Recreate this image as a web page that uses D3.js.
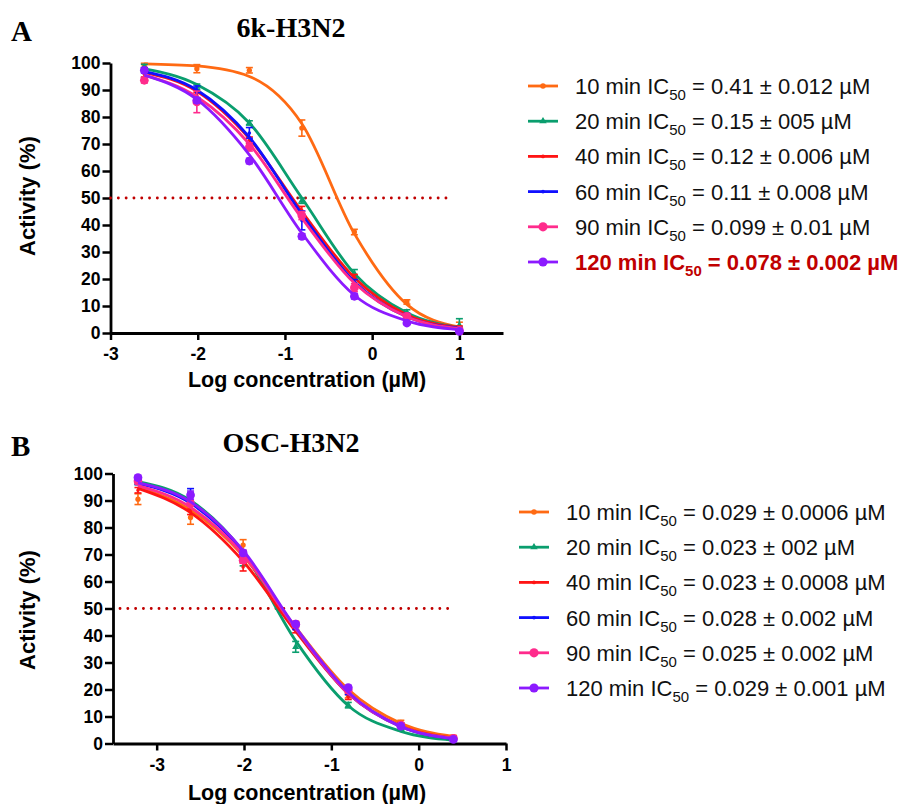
<!DOCTYPE html>
<html>
<head>
<meta charset="utf-8">
<script src="https://cdn.jsdelivr.net/npm/d3@7"></script>
<style>
  body { margin: 0; background: #fff; }
  text { font-family: Arial, "Liberation Sans", sans-serif; }
</style>
</head>
<body>
<div id="container"></div>
<script>
// ---- data ----
let timeLabels = ["10 min", "20 min", "40 min", "60 min", "90 min", "120 min"];

// log10 of concentration (µM), 4-fold dilutions
let logConcA = [-2.612, -2.010, -1.408, -0.806, -0.204, 0.398, 1.0];
let logConcB = [-3.214, -2.612, -2.010, -1.408, -0.806, -0.204, 0.398];

// measured activity (%) per time point
let activityA = [
  [99.1, 97.9, 97.3, 75.9, 37.4, 11.5, 1.8],
  [98.5, 91.2, 77.8, 49.0, 22.0, 7.6, 2.8],
  [95.8, 88.0, 71.4, 45.4, 20.7, 5.9, 1.6],
  [97.3, 89.0, 74.1, 41.7, 18.3, 6.5, 1.2],
  [93.6, 85.6, 68.9, 43.5, 16.8, 6.2, 1.0],
  [97.3, 86.2, 63.7, 35.8, 13.6, 3.7, 0.6]
];
let errorA = [
  [0.8, 1.5, 1.0, 3.0, 1.0, 0.8, 2.2],
  [1.0, 1.0, 0.8, 1.0, 1.5, 1.0, 2.5],
  [1.0, 1.0, 1.2, 1.5, 1.0, 0.8, 1.0],
  [1.0, 2.5, 2.0, 3.5, 1.5, 0.8, 0.8],
  [1.0, 4.0, 1.5, 1.5, 1.5, 1.0, 0.8],
  [0.5, 1.0, 1.0, 1.0, 1.0, 0.5, 0.5]
];
// fitted curve values read at the same concentrations
let fitA = [
  [99.7, 98.9, 95.0, 77.5, 36.8, 10.6, 2.2],
  [97.8, 92.0, 77.8, 50.0, 22.0, 7.5, 2.0],
  [96.5, 89.5, 72.0, 45.0, 20.5, 6.8, 2.0],
  [96.8, 90.0, 72.5, 44.0, 19.0, 6.0, 1.8],
  [95.5, 87.5, 70.0, 42.5, 18.5, 6.0, 1.6],
  [95.5, 86.5, 66.0, 37.0, 14.0, 4.5, 1.2]
];
let ic50A = ["0.41 ± 0.012", "0.15 ± 005", "0.12 ± 0.006", "0.11 ± 0.008", "0.099 ± 0.01", "0.078 ± 0.002"];

let activityB = [
  [90.5, 83.7, 73.5, 44.2, 17.9, 7.8, 2.5],
  [96.9, 90.4, 67.3, 35.8, 14.2, 5.6, 1.2],
  [93.8, 85.8, 65.4, 42.0, 17.3, 6.8, 2.1],
  [96.9, 91.4, 69.1, 43.2, 19.1, 7.2, 1.9],
  [97.2, 88.9, 67.9, 44.2, 19.8, 6.8, 1.9],
  [98.5, 92.0, 70.6, 44.2, 20.7, 6.4, 1.5]
];
let errorB = [
  [2.0, 2.5, 2.0, 1.0, 1.0, 0.8, 0.5],
  [1.0, 2.5, 1.5, 2.0, 1.0, 0.8, 0.5],
  [1.0, 1.0, 1.5, 1.0, 1.0, 0.8, 0.5],
  [1.0, 3.0, 1.0, 1.0, 1.0, 0.5, 0.5],
  [1.0, 1.0, 1.0, 1.0, 1.0, 0.5, 0.5],
  [0.8, 1.5, 1.0, 0.8, 0.8, 0.5, 0.5]
];
let fitB = [
  [94.8, 86.5, 69.5, 43.0, 20.0, 7.5, 2.6],
  [97.0, 90.0, 71.0, 38.0, 14.0, 4.5, 1.2],
  [94.5, 85.5, 67.5, 41.5, 18.5, 6.5, 2.0],
  [96.3, 89.0, 71.0, 42.5, 18.5, 6.2, 1.8],
  [95.5, 87.5, 70.0, 42.5, 18.5, 6.3, 2.0],
  [96.5, 89.5, 71.5, 43.0, 19.0, 6.3, 1.8]
];
let ic50B = ["0.029 ± 0.0006", "0.023 ± 002", "0.023 ± 0.0008", "0.028 ± 0.002", "0.025 ± 0.002", "0.029 ± 0.001"];

let xTicks = [-3, -2, -1, 0, 1];
let yTicks = [0, 10, 20, 30, 40, 50, 60, 70, 80, 90, 100];
let halfLineA = [-3, 0.9];
let halfLineB = [-3.42, 0.4];

// ---- styles ----
let colors = ["#ff6a13", "#0a9e6e", "#ff1414", "#1010ff", "#ff2b8c", "#8c1aff"];
let symbols = [d3.symbolCircle, d3.symbolTriangle, d3.symbolCircle, d3.symbolCircle, d3.symbolCircle, d3.symbolCircle];
let symbolSizes = [22, 22, 10, 10, 60, 60];

let w = 901;
let h = 804;
let viz = d3.select("#container")
  .append("svg")
    .attr("width", w)
    .attr("height", h)
    .style("display", "block")
;
viz.append("rect").attr("width", w).attr("height", h).attr("fill", "#fff");

let serif = "'Times New Roman', 'Liberation Serif', serif";

function drawPanel(p){
  let xScale = d3.scaleLinear().domain(p.xDomain).range([p.left, p.right]);
  let yScale = d3.scaleLinear().domain([0, 100]).range([p.bottom, p.top]);

  let g = viz.append("g").attr("class", "panel");

  // panel letter and title
  g.append("text")
    .text(p.letter)
    .attr("x", 11).attr("y", p.letterY)
    .style("font-family", serif)
    .style("font-weight", "bold")
    .style("font-size", "29px");
  g.append("text")
    .text(p.title)
    .attr("x", 291).attr("y", p.titleY)
    .attr("text-anchor", "middle")
    .style("font-family", serif)
    .style("font-weight", "bold")
    .style("font-size", "28px");

  // axes
  let xAxis = d3.axisBottom(xScale)
    .tickValues(xTicks)
    .tickSize(7)
    .tickSizeOuter(0)
    .tickPadding(8)
    .tickFormat(function(d){ return String(d); });
  let xAxisGroup = g.append("g")
    .attr("transform", "translate(0," + p.bottom + ")")
    .call(xAxis);

  let yAxis = d3.axisLeft(yScale)
    .tickValues(yTicks)
    .tickSize(8)
    .tickSizeOuter(0)
    .tickPadding(2);
  let yAxisGroup = g.append("g")
    .attr("transform", "translate(" + p.left + ",0)")
    .call(yAxis);

  [xAxisGroup, yAxisGroup].forEach(function(ax){
    ax.select(".domain").attr("stroke", "#000").attr("stroke-width", 2.8);
    ax.selectAll(".tick line").attr("stroke", "#000").attr("stroke-width", 2.5);
    ax.selectAll(".tick text")
      .attr("fill", "#000")
      .style("font-family", "Arial, 'Liberation Sans', sans-serif")
      .style("font-weight", "bold")
      .style("font-size", "17.5px");
  });

  // axis titles
  g.append("text")
    .text("Log concentration (µM)")
    .attr("x", 307).attr("y", p.xLabelY)
    .attr("text-anchor", "middle")
    .style("font-weight", "bold")
    .style("font-size", "21.5px");
  g.append("text")
    .text("Activity (%)")
    .attr("transform", "translate(35," + p.yLabelY + ") rotate(-90)")
    .attr("text-anchor", "middle")
    .style("font-weight", "bold")
    .style("font-size", "22px");

  // 50% reference line
  g.append("line")
    .attr("x1", xScale(p.halfLine[0])).attr("x2", xScale(p.halfLine[1]))
    .attr("y1", yScale(50)).attr("y2", yScale(50))
    .attr("stroke", "#c00000")
    .attr("stroke-width", 2.8)
    .attr("stroke-linecap", "round")
    .attr("stroke-dasharray", "0.1,7.7");

  let line = d3.line()
    .x(function(d){ return xScale(d.x); })
    .y(function(d){ return yScale(d.y); })
    .curve(d3.curveMonotoneX);

  timeLabels.forEach(function(lbl, i){
    let pts = p.xs.map(function(x, j){
      return { x: x, y: p.activity[i][j], e: p.error[i][j], f: p.fit[i][j] };
    });
    let sg = g.append("g").attr("class", "series");

    sg.append("path")
      .datum(pts.map(function(d){ return { x: d.x, y: d.f }; }))
      .attr("d", line)
      .attr("fill", "none")
      .attr("stroke", colors[i])
      .attr("stroke-width", 2.8);

    // error bars
    let eb = sg.selectAll(".eb").data(pts).enter().append("g").attr("class", "eb");
    eb.append("line")
      .attr("x1", function(d){ return xScale(d.x); })
      .attr("x2", function(d){ return xScale(d.x); })
      .attr("y1", function(d){ return yScale(d.y - d.e); })
      .attr("y2", function(d){ return yScale(d.y + d.e); })
      .attr("stroke", colors[i]).attr("stroke-width", 1.6);
    [-1, 1].forEach(function(s){
      eb.append("line")
        .attr("x1", function(d){ return xScale(d.x) - 3.5; })
        .attr("x2", function(d){ return xScale(d.x) + 3.5; })
        .attr("y1", function(d){ return yScale(d.y + s * d.e); })
        .attr("y2", function(d){ return yScale(d.y + s * d.e); })
        .attr("stroke", colors[i]).attr("stroke-width", 1.6);
    });

    sg.selectAll(".pt").data(pts).enter().append("path")
      .attr("class", "pt")
      .attr("d", d3.symbol().type(symbols[i]).size(symbolSizes[i]))
      .attr("transform", function(d){ return "translate(" + xScale(d.x) + "," + yScale(d.y) + ")"; })
      .attr("fill", colors[i]);

    // legend row
    let ry = p.legendY + i * 35.2;
    let lg = g.append("g").attr("class", "legend");
    lg.append("line")
      .attr("x1", p.legendX).attr("x2", p.legendX + 30)
      .attr("y1", ry).attr("y2", ry)
      .attr("stroke", colors[i]).attr("stroke-width", 2.8);
    lg.append("path")
      .attr("d", d3.symbol().type(symbols[i]).size(symbolSizes[i] * 1.1))
      .attr("transform", "translate(" + (p.legendX + 15) + "," + ry + ")")
      .attr("fill", colors[i]);
    let bold = p.boldRow === i;
    let t = lg.append("text")
      .attr("x", p.legendX + 47).attr("y", ry + 8)
      .attr("fill", bold ? "#c00000" : "#111")
      .style("font-weight", bold ? "bold" : "normal")
      .style("font-size", "22px");
    t.append("tspan").text(lbl + " IC");
    t.append("tspan").text("50").attr("dy", 6).style("font-size", "15px");
    t.append("tspan").text(" = " + p.ic50[i] + " µM").attr("dy", -6);
  });
}

drawPanel({
  letter: "A", letterY: 41, title: "6k-H3N2", titleY: 37,
  left: 110.5, right: 503, top: 63, bottom: 333,
  xDomain: [-3, 1.5], xLabelY: 387, yLabelY: 196,
  xs: logConcA, activity: activityA, error: errorA, fit: fitA,
  halfLine: halfLineA, ic50: ic50A,
  legendX: 528, legendY: 86, boldRow: 5
});

drawPanel({
  letter: "B", letterY: 456, title: "OSC-H3N2", titleY: 452,
  left: 113, right: 506, top: 473.5, bottom: 743.5,
  xDomain: [-3.5, 1], xLabelY: 800, yLabelY: 610,
  xs: logConcB, activity: activityB, error: errorB, fit: fitB,
  halfLine: halfLineB, ic50: ic50B,
  legendX: 519, legendY: 512, boldRow: -1
});
</script>
</body>
</html>
